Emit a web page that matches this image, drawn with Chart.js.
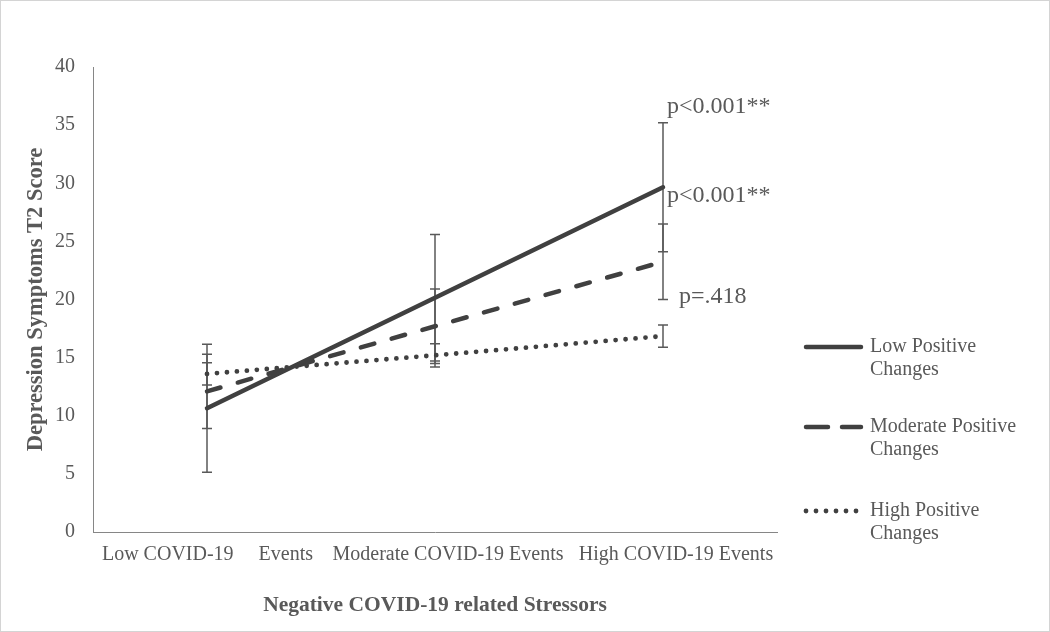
<!DOCTYPE html>
<html>
<head>
<meta charset="utf-8">
<script src="https://cdn.jsdelivr.net/npm/chart.js@4.4.1/dist/chart.umd.min.js"></script>
<style>
  body { margin: 0; background: #fff; }
  #wrap { width: 1050px; height: 632px; box-sizing: border-box; border: 1px solid #d4d4d4; background: #fff; }
  canvas { display: block; }
</style>
</head>
<body>
<div id="wrap"><canvas id="chart" width="1048" height="630"></canvas></div>
<script>
// x categories (trailing spaces on the first keep it centred like the original)
const categories = ["Low COVID-19     Events     ", "Moderate COVID-19 Events", "High COVID-19 Events"];

// estimated means and error (half) widths
const lowPositive = [10.65, 20.15, 29.65];
const lowPositiveErr = [5.5, 5.45, 5.55];
const moderatePositive = [12.1, 17.7, 23.25];
const moderatePositiveErr = [3.2, 3.2, 3.25];
const highPositive = [13.6, 15.2, 16.85];
const highPositiveErr = [0.95, 1.0, 0.95];

const seriesNames = [["Low Positive", "Changes"], ["Moderate Positive", "Changes"], ["High Positive", "Changes"]];
const pLabels = ["p<0.001**", "p<0.001**", "p=.418"];

const serif = "'Times New Roman', 'Liberation Serif', serif";
const textColor = "#595959";
const lineColor = "#404040";

const errorBars = {
  id: "errorBars",
  beforeDatasetsDraw(chart) {
    const ctx = chart.ctx;
    const y = chart.scales.y;
    ctx.save();
    ctx.strokeStyle = "#595959";
    ctx.lineWidth = 1.5;
    chart.data.datasets.forEach((ds, i) => {
      const meta = chart.getDatasetMeta(i);
      meta.data.forEach((pt, j) => {
        const top = y.getPixelForValue(ds.data[j] + ds.errors[j]);
        const bot = y.getPixelForValue(ds.data[j] - ds.errors[j]);
        ctx.beginPath();
        ctx.moveTo(pt.x, top);
        ctx.lineTo(pt.x, bot);
        ctx.moveTo(pt.x - 5, top);
        ctx.lineTo(pt.x + 5, top);
        ctx.moveTo(pt.x - 5, bot);
        ctx.lineTo(pt.x + 5, bot);
        ctx.stroke();
      });
    });
    ctx.restore();
  }
};

const extras = {
  id: "extras",
  afterDraw(chart) {
    const ctx = chart.ctx;
    const y = chart.scales.y;
    const ds = chart.data.datasets;
    const last = categories.length - 1;
    const px = chart.getDatasetMeta(0).data[last].x;

    // p value notes at the high end
    ctx.save();
    ctx.fillStyle = textColor;
    ctx.font = "24px " + serif;
    ctx.textBaseline = "middle";
    ctx.textAlign = "left";
    ctx.fillText(pLabels[0], px + 4, y.getPixelForValue(ds[0].data[last] + ds[0].errors[last]) - 16);
    ctx.fillText(pLabels[1], px + 4, y.getPixelForValue(ds[0].data[last]) + 8);
    ctx.fillText(pLabels[2], px + 16, y.getPixelForValue(ds[1].data[last] - ds[1].errors[last]) - 3);

    // legend with wrapped names
    const lx = 803;
    const rows = [346, 426, 510];
    ctx.font = "20px " + serif;
    ds.forEach((d, i) => {
      const ry = rows[i];
      ctx.save();
      ctx.strokeStyle = d.borderColor;
      ctx.lineWidth = d.borderWidth;
      ctx.lineCap = "round";
      ctx.setLineDash(i === 1 ? [22, 14] : (d.borderDash || []));
      ctx.beginPath();
      ctx.moveTo(lx + 2, ry);
      ctx.lineTo(lx + 57, ry);
      ctx.stroke();
      ctx.restore();
      seriesNames[i].forEach((t, k) => ctx.fillText(t, lx + 66, ry + k * 23));
    });
    ctx.restore();
  }
};

new Chart(document.getElementById("chart"), {
  type: "line",
  data: {
    labels: categories,
    datasets: [
      { label: seriesNames[0].join(" "), data: lowPositive, errors: lowPositiveErr,
        borderColor: lineColor, borderWidth: 4.5, borderCapStyle: "round" },
      { label: seriesNames[1].join(" "), data: moderatePositive, errors: moderatePositiveErr,
        borderColor: lineColor, borderWidth: 4.5, borderCapStyle: "round", borderDash: [14, 18] },
      { label: seriesNames[2].join(" "), data: highPositive, errors: highPositiveErr,
        borderColor: lineColor, borderWidth: 4.8, borderCapStyle: "round", borderDash: [0, 10] }
    ]
  },
  options: {
    responsive: false,
    animation: false,
    layout: { padding: { left: 0, top: 66, right: 272, bottom: 0 } },
    elements: { point: { radius: 0, hoverRadius: 0 }, line: { tension: 0 } },
    plugins: { legend: { display: false }, tooltip: { enabled: false } },
    scales: {
      x: {
        offset: true,
        grid: { display: false, drawTicks: false },
        border: { display: true, color: "#868686", width: 1 },
        ticks: { autoSkip: false, maxRotation: 0, minRotation: 0, padding: 11, labelOffset: 13,
          color: textColor, font: { family: serif, size: 20 } },
        title: { display: true, text: "Negative COVID-19 related Stressors", color: textColor,
          font: { family: serif, size: 21.5, weight: "bold" }, padding: { top: 0, bottom: 13 } },
        afterFit(scale) { scale.height = 99; }
      },
      y: {
        min: 0, max: 40,
        grid: { display: false, drawTicks: false },
        border: { display: true, color: "#868686", width: 1 },
        ticks: { stepSize: 5, padding: 18, color: textColor, font: { family: serif, size: 20 } },
        title: { display: true, text: "Depression Symptoms T2 Score", color: textColor,
          font: { family: serif, size: 22.5, weight: "bold" }, padding: { top: 22, bottom: 0 } },
        afterFit(scale) { scale.width = 92; }
      }
    }
  },
  plugins: [errorBars, extras]
});
</script>
</body>
</html>
